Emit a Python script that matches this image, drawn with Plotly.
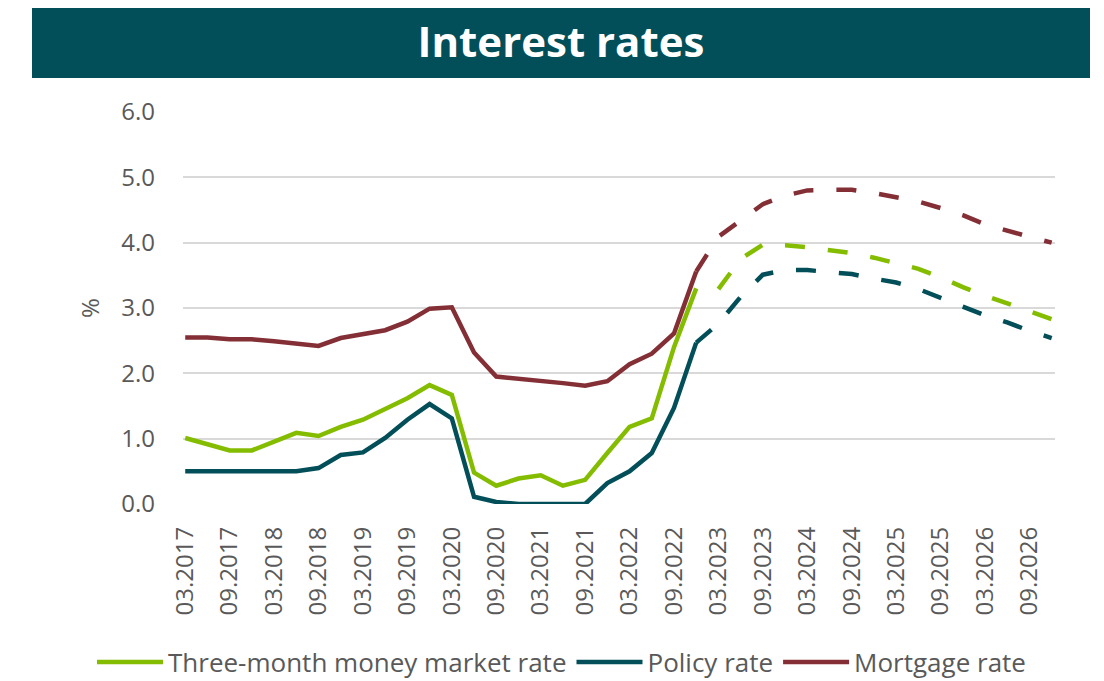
import plotly.graph_objects as go

quarters = [
    "03.2017", "06.2017", "09.2017", "12.2017",
    "03.2018", "06.2018", "09.2018", "12.2018",
    "03.2019", "06.2019", "09.2019", "12.2019",
    "03.2020", "06.2020", "09.2020", "12.2020",
    "03.2021", "06.2021", "09.2021", "12.2021",
    "03.2022", "06.2022", "09.2022", "12.2022",
    "03.2023", "06.2023", "09.2023", "12.2023",
    "03.2024", "06.2024", "09.2024", "12.2024",
    "03.2025", "06.2025", "09.2025", "12.2025",
    "03.2026", "06.2026", "09.2026", "12.2026",
]
tick_labels = quarters[::2]

# Historical (solid) values, 03.2017 - 12.2022
three_month = [1.01, 0.91, 0.82, 0.82, 0.95, 1.09, 1.04, 1.18, 1.29, 1.45, 1.62, 1.82,
               1.67, 0.48, 0.28, 0.39, 0.44, 0.28, 0.37, 0.78, 1.18, 1.31, 2.40, 3.30]
policy = [0.50, 0.50, 0.50, 0.50, 0.50, 0.50, 0.55, 0.75, 0.79, 1.01, 1.29, 1.53,
          1.31, 0.11, 0.03, 0.00, 0.00, 0.00, 0.00, 0.32, 0.50, 0.78, 1.47, 2.47]
mortgage = [2.55, 2.55, 2.52, 2.52, 2.49, 2.45, 2.42, 2.54, 2.60, 2.66, 2.79, 2.99,
            3.01, 2.32, 1.95, 1.92, 1.89, 1.85, 1.81, 1.88, 2.14, 2.30, 2.61, 3.56]

# Forecast (dashed) values
three_month_fc_quarters = quarters[24:]
three_month_fc = [3.29, 3.75, 3.97, 3.96, 3.93, 3.89, 3.84, 3.77, 3.69, 3.60, 3.47, 3.32,
                  3.19, 3.07, 2.95, 2.83]
fc_quarters = quarters[23:]
policy_fc = [2.47, 2.76, 3.17, 3.51, 3.58, 3.58, 3.55, 3.52, 3.45, 3.39, 3.29, 3.15,
             3.02, 2.89, 2.78, 2.65, 2.54]
mortgage_fc = [3.56, 4.09, 4.34, 4.59, 4.72, 4.80, 4.81, 4.81, 4.76, 4.70, 4.63, 4.53,
               4.42, 4.28, 4.18, 4.09, 4.00]

GREEN = "#84BD00"
TEAL = "#024F59"
RED = "#832F35"
GREY = "#595959"
FONT = "Open Sans"
LW = 4.5
DASH = "20px,23px"

W, H = 1096, 673  # page body has an 8px margin
ML, MR, MT, MB = 175, 49, 104, 177
PW, PH = W - ML - MR, H - MT - MB

fig = go.Figure()
fig.add_trace(go.Scatter(x=quarters[:24], y=three_month, mode="lines", name="Three-month money market rate",
                         line=dict(color=GREEN, width=LW)))
fig.add_trace(go.Scatter(x=quarters[:24], y=policy, mode="lines", name="Policy rate",
                         line=dict(color=TEAL, width=LW)))
fig.add_trace(go.Scatter(x=quarters[:24], y=mortgage, mode="lines", name="Mortgage rate",
                         line=dict(color=RED, width=LW)))
fig.add_trace(go.Scatter(x=three_month_fc_quarters, y=three_month_fc, mode="lines", showlegend=False,
                         line=dict(color=GREEN, width=LW, dash=DASH)))
fig.add_trace(go.Scatter(x=fc_quarters, y=policy_fc, mode="lines", showlegend=False,
                         line=dict(color=TEAL, width=LW, dash=DASH)))
fig.add_trace(go.Scatter(x=fc_quarters, y=mortgage_fc, mode="lines", showlegend=False,
                         line=dict(color=RED, width=LW, dash=DASH)))

fig.update_layout(
    width=W, height=H,
    margin=dict(l=ML, r=MR, t=MT, b=MB, autoexpand=False),
    paper_bgcolor="white", plot_bgcolor="white",
    font=dict(family=FONT, color=GREY, size=24),
    title=dict(text="<b>Interest rates</b>", font=dict(family=FONT, size=42, color="white"),
               x=553 / W, xanchor="center", xref="container",
               y=1 - 34 / H, yanchor="middle", yref="container"),
    showlegend=True,
    legend=dict(orientation="h", xref="paper", yref="paper",
                x=(84 - ML) / PW, xanchor="left", y=(PH + MT - 654) / PH, yanchor="middle",
                font=dict(family=FONT, size=26, color=GREY), itemwidth=66,
                tracegroupgap=0, bgcolor="rgba(0,0,0,0)"),
    xaxis=dict(type="category", categoryorder="array", categoryarray=quarters,
               range=[-0.1, 39.15], tickmode="array", tickvals=tick_labels, ticktext=tick_labels,
               tickangle=-90, showgrid=False, showline=False, zeroline=False, ticks="",
               tickfont=dict(family=FONT, size=24, color=GREY), ticklabelstandoff=17),
    yaxis=dict(range=[0, 6], tickmode="array", tickvals=[0, 1, 2, 3, 4, 5, 6],
               ticktext=["0.0", "1.0", "2.0", "3.0", "4.0", "5.0", "6.0"],
               showgrid=True, gridcolor="#D9D9D9", gridwidth=2, zeroline=False, showline=False,
               ticks="", ticklabelstandoff=27,
               tickfont=dict(family=FONT, size=24, color=GREY),
               title=dict(text="%", font=dict(family=FONT, size=24, color=GREY), standoff=14)),
    shapes=[dict(type="rect", xref="paper", yref="paper",
                 x0=(32 - 8 - ML) / PW, x1=(1090 - 8 - ML) / PW,
                 y0=(PH + MT - (78 - 8)) / PH, y1=(PH + MT - (5 - 8)) / PH,
                 fillcolor=TEAL, line=dict(width=0), layer="below")],
)

fig.write_html("out.html")
